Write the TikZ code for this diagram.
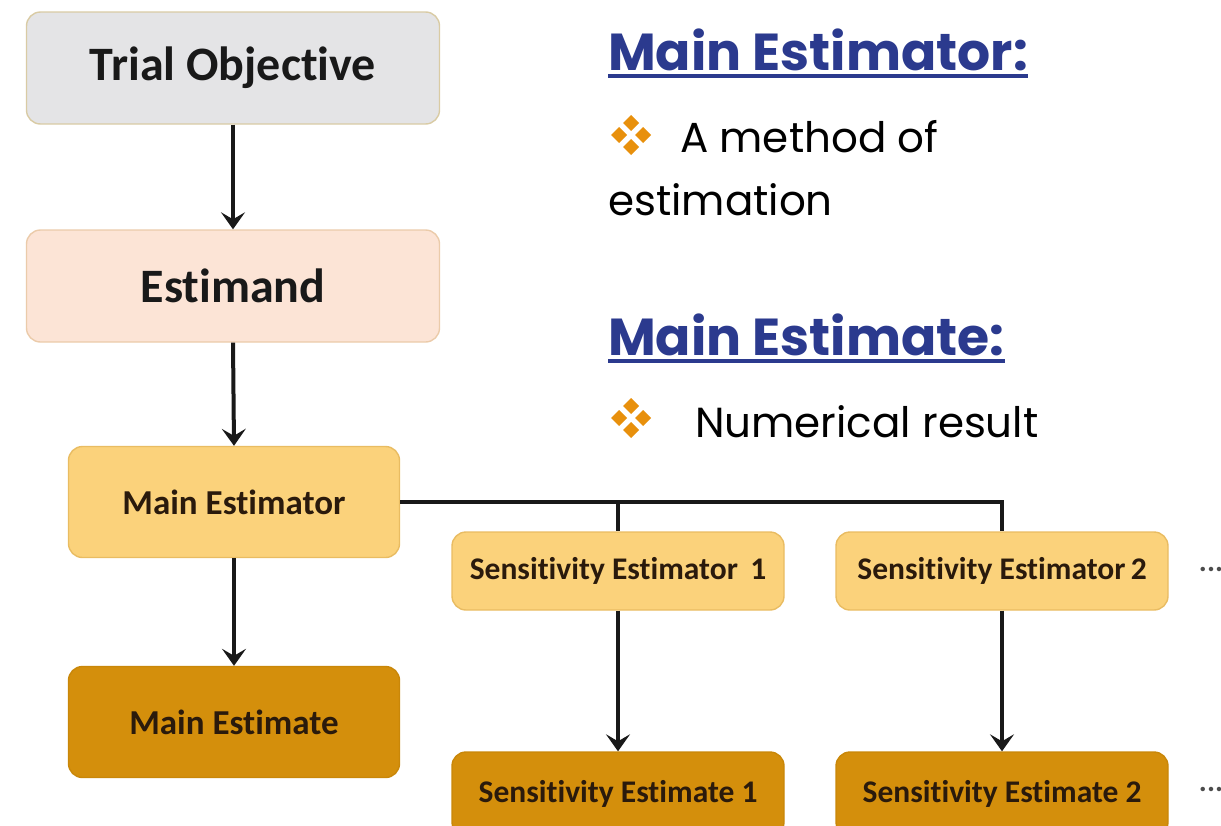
\documentclass[tikz,border=0pt]{standalone}
\usepackage{fontspec}
\setmainfont{Carlito}[Ligatures=NoCommon]
\newfontfamily\gothic{Poppins}[Ligatures=NoCommon]
\usetikzlibrary{arrows.meta,calc}

\definecolor{objfill}{HTML}{E4E4E6}
\definecolor{objline}{HTML}{D9CBA4}
\definecolor{estdfill}{HTML}{FCE4D6}
\definecolor{estdline}{HTML}{EBCBAA}
\definecolor{torfill}{HTML}{FBD27B}
\definecolor{torline}{HTML}{E9BC62}
\definecolor{atefill}{HTML}{D48F0C}
\definecolor{ateline}{HTML}{C98709}
\definecolor{headblue}{HTML}{2B3A8E}
\definecolor{bulletorange}{HTML}{E8900C}
\definecolor{boxtext}{HTML}{2A1A0C}

\tikzset{
  box/.style={rounded corners=14pt, line width=1.4pt, align=center,
              font=\bfseries, text=boxtext},
  bigbox/.style={box, minimum width=413pt, minimum height=112pt,
                 font=\fontsize{48}{52}\selectfont\bfseries, text=black!90},
  midbox/.style={box, minimum width=331pt, minimum height=111pt,
                 font=\fontsize{35}{39}\selectfont\bfseries},
  sensbox/.style={box, minimum width=332pt, minimum height=78pt,
                  font=\fontsize{31.5}{35}\selectfont\bfseries},
  objstyle/.style={fill=objfill, draw=objline},
  estdstyle/.style={fill=estdfill, draw=estdline},
  torstyle/.style={fill=torfill, draw=torline},
  atestyle/.style={fill=atefill, draw=ateline},
  link/.style={line width=4pt, black!90},
  arrowlink/.style={link, -{Stealth[length=17pt, width=24pt, inset=7pt]}},
  heading/.style={anchor=base west, inner sep=0pt, text=headblue,
                  font=\gothic\fontsize{52}{56}\selectfont\bfseries},
  bodytext/.style={anchor=base west, inner sep=0pt, text=black,
                   font=\gothic\fontsize{42}{46}\selectfont},
  dots/.style={font=\fontsize{30}{30}\selectfont\bfseries, text=black!70, inner sep=0pt}
}

% four small diamonds arranged as a bullet
\newcommand{\quadbullet}[1]{%
  \foreach \dx/\dy in {0/-12, -12/0, 12/0, 0/12}{%
    \fill[bulletorange] ($(#1)+(\dx,\dy)$) +(0,-8) -- +(8,0) -- +(0,8) -- +(-8,0) -- cycle;
  }%
}

\begin{document}
\begin{tikzpicture}[x=1pt, y=-1pt]
  \useasboundingbox (0,0) rectangle (1221,825);
  \clip (0,0) rectangle (1221,825);

  % main column
  \node[bigbox, objstyle]  (obj)   at (233,68)  {Trial Objective};
  \node[bigbox, estdstyle] (estd)  at (233,286) {Estimand};
  \node[midbox, torstyle]  (mtor)  at (234,502) {Main Estimator};
  \node[midbox, atestyle]  (mate)  at (234,722) {Main Estimate};

  % sensitivity branches
  \node[sensbox, torstyle] (stor1) at (618,571) {Sensitivity Estimator\, 1};
  \node[sensbox, torstyle] (stor2) at (1002,571) {Sensitivity Estimator\,2};
  \node[sensbox, atestyle, minimum height=84pt] (sate1) at (618,794) {Sensitivity Estimate 1};
  \node[sensbox, atestyle, minimum height=84pt] (sate2) at (1002,794) {Sensitivity Estimate 2};

  \node[dots] (dots1) at (1211,569) {...};
  \node[dots] (dots2) at (1211,789) {...};

  % connectors
  \draw[arrowlink] (obj.south) -- (estd.north);
  \draw[arrowlink] (estd.south) -- (mtor.north);
  \draw[arrowlink] (mtor.south) -- (mate.north);
  \draw[link] (mtor.east) -- (stor2.north |- mtor.east) -- (stor2.north);
  \draw[link] (stor1.north |- mtor.east) -- (stor1.north);
  \draw[arrowlink] (stor1.south) -- (sate1.north);
  \draw[arrowlink] (stor2.south) -- (sate2.north);

  % explanatory text
  \node[heading] (h1) at (608,70) {Main Estimator:};
  \draw[headblue, line width=3.5pt] ($(h1.base west)+(0,6)$) -- ($(h1.base east)+(0,6)$);
  \coordinate (b1) at (631,135);
  \quadbullet{b1}
  \node[bodytext] (t1) at (680,152) {A method of};
  \node[bodytext] (t2) at (608,215) {estimation};

  \node[heading] (h2) at (608,355) {Main Estimate:};
  \draw[headblue, line width=3.5pt] ($(h2.base west)+(0,6)$) -- ($(h2.base east)+(0,6)$);
  \coordinate (b2) at (631,418);
  \quadbullet{b2}
  \node[bodytext] (t3) at (695,437) {Numerical result};
\end{tikzpicture}
\end{document}
